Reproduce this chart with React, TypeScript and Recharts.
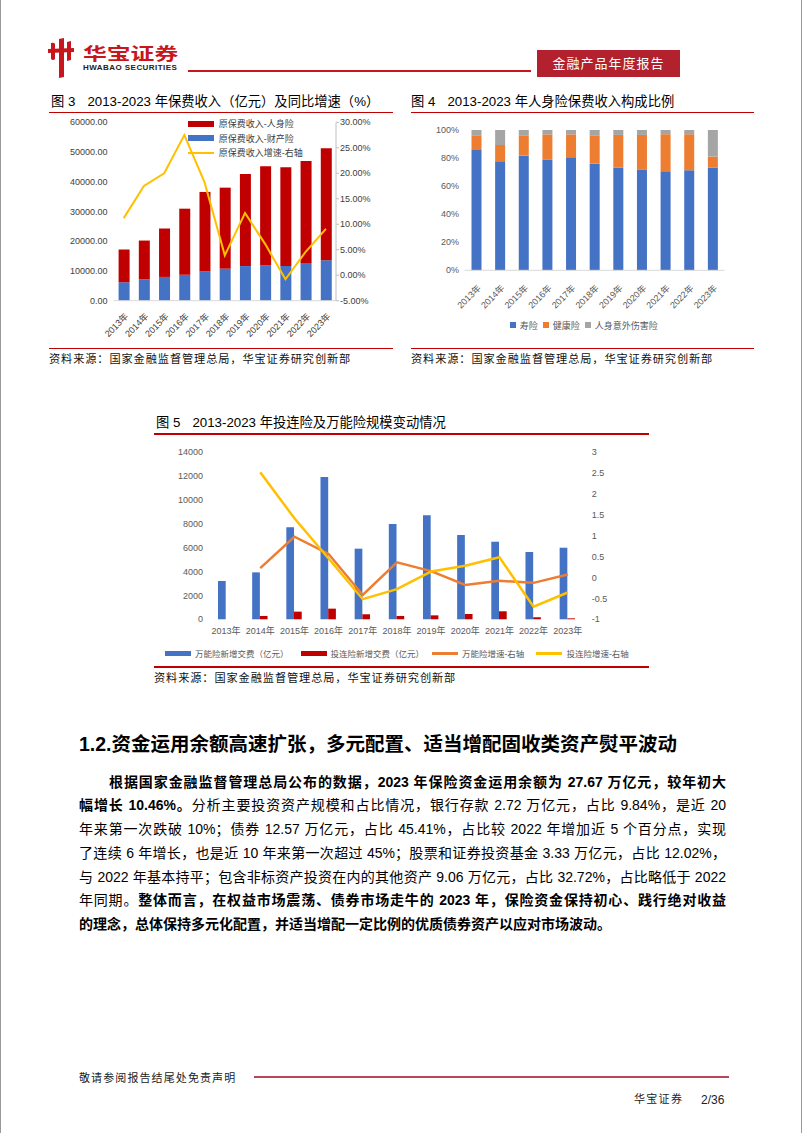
import React from 'react';
import { ComposedChart, BarChart, Bar, Line, XAxis, YAxis, Legend } from 'recharts';

const FONT = '"Liberation Sans", "Noto Sans CJK SC", sans-serif';
const RED = '#C00000';
const BLUE = '#4472C4';
const ORANGE = '#ED7D31';
const GRAY = '#A5A5A5';
const YELLOW = '#FFC000';

// ---------- shared categories ----------
const years = ['2013年', '2014年', '2015年', '2016年', '2017年', '2018年', '2019年', '2020年', '2021年', '2022年', '2023年'];

// ---------- 图3 ----------
const propertyPremium = [6210, 7200, 7990, 8720, 9830, 10770, 11650, 11930, 11670, 12710, 13610];
const lifePremium = [11010, 13030, 16290, 22230, 26750, 27250, 30990, 33330, 33230, 34250, 37640];
const premiumGrowth = [11.2, 17.5, 20.0, 27.5, 18.2, 3.9, 12.2, 6.1, -0.8, 4.6, 9.1];
const fig3LeftTicks = [0, 10000, 20000, 30000, 40000, 50000, 60000];
const fig3RightTicks = [-5, 0, 5, 10, 15, 20, 25, 30];
const fig3Legend = [
  { name: '原保费收入-人身险', color: RED, kind: 'rect' },
  { name: '原保费收入-财产险', color: BLUE, kind: 'rect' },
  { name: '原保费收入增速-右轴', color: YELLOW, kind: 'line' },
];

// ---------- 图4 ----------
const lifeShare = [85.7, 77.7, 81.7, 78.9, 80.5, 76.2, 73.3, 71.6, 70.6, 71.3, 73.3];
const healthShare = [10.5, 11.6, 14.5, 18.0, 16.4, 20.0, 23.2, 24.9, 26.4, 25.7, 7.8];
const accidentShare = [3.8, 10.7, 3.8, 3.1, 3.1, 3.8, 3.5, 3.5, 3.0, 3.0, 18.9];
const fig4Ticks = [0, 10, 20, 30, 40, 50, 60, 70, 80, 90, 100];
const fig4Legend = [
  { name: '寿险', color: BLUE },
  { name: '健康险', color: ORANGE },
  { name: '人身意外伤害险', color: GRAY },
];

// ---------- 图5 ----------
const universalPremium = [3200, 3920, 7680, 11880, 5900, 7960, 8700, 7040, 6480, 5620, 5980];
const unitLinkedPremium = [0, 280, 640, 890, 420, 280, 330, 445, 670, 170, 80];
const universalGrowth = [null, 0.22, 0.97, 0.56, -0.42, 0.36, 0.15, -0.18, -0.08, -0.13, 0.07];
const unitLinkedGrowth = [null, 2.51, 1.41, 0.45, -0.52, -0.28, 0.14, 0.28, 0.48, -0.7, -0.36];
const fig5LeftTicks = [0, 2000, 4000, 6000, 8000, 10000, 12000, 14000];
const fig5RightTicks = [-1, -0.5, 0, 0.5, 1, 1.5, 2, 2.5, 3];
const fig5Legend = [
  { name: '万能险新增交费（亿元）', color: BLUE, kind: 'rect' },
  { name: '投连险新增交费（亿元）', color: RED, kind: 'rect' },
  { name: '万能险增速-右轴', color: ORANGE, kind: 'line' },
  { name: '投连险增速-右轴', color: YELLOW, kind: 'line' },
];

const fig3Data = years.map((y, i) => ({ year: y, property: propertyPremium[i], life: lifePremium[i], growth: premiumGrowth[i] }));
const fig4Data = years.map((y, i) => ({ year: y, life: lifeShare[i], health: healthShare[i], accident: accidentShare[i] }));
const fig5Data = years.map((y, i) => ({
  year: y,
  universal: universalPremium[i],
  unitLinked: unitLinkedPremium[i],
  uGrowth: universalGrowth[i],
  lGrowth: unitLinkedGrowth[i],
}));

// ---------- text ----------
type Seg = { t: string; b?: boolean };
const paraLines: Seg[][] = [
  [{ t: '根据国家金融监督管理总局公布的数据，2023 年保险资金运用余额为 27.67 万亿元，较年初大', b: true }],
  [{ t: '幅增长 10.46%。', b: true }, { t: '分析主要投资资产规模和占比情况，银行存款 2.72 万亿元，占比 9.84%，是近 20' }],
  [{ t: '年来第一次跌破 10%；债券 12.57 万亿元，占比 45.41%，占比较 2022 年增加近 5 个百分点，实现' }],
  [{ t: '了连续 6 年增长，也是近 10 年来第一次超过 45%；股票和证券投资基金 3.33 万亿元，占比 12.02%，' }],
  [{ t: '与 2022 年基本持平；包含非标资产投资在内的其他资产 9.06 万亿元，占比 32.72%，占比略低于 2022' }],
  [{ t: '年同期。' }, { t: '整体而言，在权益市场震荡、债券市场走牛的 2023 年，保险资金保持初心、践行绝对收益', b: true }],
  [{ t: '的理念，总体保持多元化配置，并适当增配一定比例的优质债券资产以应对市场波动。', b: true }],
];

const abs = (left: number, top: number, extra: React.CSSProperties = {}): React.CSSProperties => ({
  position: 'absolute',
  left,
  top,
  ...extra,
});

const Rule = ({ x1, x2, y, color = RED, h = 1.5 }: { x1: number; x2: number; y: number; color?: string; h?: number }) => (
  <div style={abs(x1, y - h / 2, { width: x2 - x1, height: h, background: color })} />
);

const TextAt = ({ x, cy, size, children, style = {} }: any) => (
  <div style={abs(x, cy - size * 0.6, { fontSize: size, lineHeight: `${size * 1.2}px`, whiteSpace: 'nowrap', fontFamily: FONT, ...style })}>
    {children}
  </div>
);

const RotTick3 = (props: any) => {
  const { x, y, payload } = props;
  return (
    <g transform={`translate(${x + 3},${y + 6})`}>
      <text textAnchor="end" transform="rotate(-45)" dy="0.35em" fontSize={9} fill="#404040" fontFamily={FONT}>
        {payload.value}
      </text>
    </g>
  );
};

const RotTick4 = (props: any) => {
  const { x, y, payload } = props;
  return (
    <g transform={`translate(${x + 3},${y + 8})`}>
      <text textAnchor="end" transform="rotate(-45)" dy="0.35em" fontSize={9} fill="#595959" fontFamily={FONT}>
        {payload.value}
      </text>
    </g>
  );
};

const Fig3Legend = () => (
  <div style={{ fontFamily: FONT, fontSize: 9, color: '#404040' }}>
    {fig3Legend.map((it) => (
      <div key={it.name} style={{ display: 'flex', alignItems: 'center', height: 14.5 }}>
        <div
          style={{
            width: 26,
            height: it.kind === 'rect' ? 6 : 2,
            background: it.color,
            marginRight: 5,
          }}
        />
        <span>{it.name}</span>
      </div>
    ))}
  </div>
);

const Fig4Legend = () => (
  <div style={{ fontFamily: FONT, fontSize: 9, color: '#595959', display: 'flex', alignItems: 'center', height: 16 }}>
    {fig4Legend.map((it) => (
      <div key={it.name} style={{ display: 'flex', alignItems: 'center', marginRight: 5 }}>
        <div style={{ width: 6, height: 6, background: it.color, marginRight: 4 }} />
        <span>{it.name}</span>
      </div>
    ))}
  </div>
);

const Fig5Legend = () => (
  <div style={{ fontFamily: FONT, fontSize: 8.5, color: '#595959', display: 'flex', alignItems: 'center', height: 16 }}>
    {fig5Legend.map((it, i) => (
      <div key={it.name} style={{ display: 'flex', alignItems: 'center', marginRight: i === 1 ? 8 : 12 }}>
        <div style={{ width: 26, height: it.kind === 'rect' ? 5 : 3, background: it.color, marginRight: 4 }} />
        <span>{it.name}</span>
      </div>
    ))}
  </div>
);

const Fig3 = () => (
  <div style={abs(40, 115)}>
    <ComposedChart width={350} height={240} data={fig3Data} margin={{ top: 7.3, right: 0, left: 0, bottom: 0 }} barSize={11}>
      <XAxis
        dataKey="year"
        interval={0}
        height={54.3}
        tick={<RotTick3 />}
        tickLine={false}
        axisLine={{ stroke: '#D9D9D9' }}
      />
      <YAxis
        yAxisId="left"
        width={72.6}
        domain={[0, 60000]}
        ticks={fig3LeftTicks}
        tickFormatter={(v: number) => `${v}.00`}
        axisLine={false}
        tickLine={false}
        tickSize={0}
        tickMargin={6}
        tick={{ fontSize: 9, fill: '#404040', fontFamily: FONT }}
      />
      <YAxis
        yAxisId="right"
        orientation="right"
        width={55}
        domain={[-5, 30]}
        ticks={fig3RightTicks}
        tickFormatter={(v: number) => `${v.toFixed(2)}%`}
        axisLine={{ stroke: '#BFBFBF' }}
        tickLine={{ stroke: '#BFBFBF' }}
        tickSize={3}
        tickMargin={1}
        tick={{ fontSize: 9, fill: '#404040', fontFamily: FONT }}
      />
      <Bar yAxisId="left" dataKey="property" stackId="p" fill={BLUE} isAnimationActive={false} />
      <Bar yAxisId="left" dataKey="life" stackId="p" fill={RED} isAnimationActive={false} />
      <Line yAxisId="right" dataKey="growth" stroke={YELLOW} strokeWidth={2} dot={false} type="linear" isAnimationActive={false} />
      <Legend
        layout="horizontal"
        verticalAlign="middle"
        align="center"
        content={<Fig3Legend />}
        wrapperStyle={{ top: 1.5, left: 146.7, width: 150, height: 45 }}
      />
    </ComposedChart>
  </div>
);

const Fig4 = () => (
  <div style={abs(400, 120)}>
    <BarChart width={340} height={225} data={fig4Data} margin={{ top: 10, right: 16.5, left: 0, bottom: 0 }} barSize={10}>
      <XAxis
        dataKey="year"
        interval={0}
        height={74.7}
        tick={<RotTick4 />}
        tickLine={false}
        axisLine={{ stroke: '#D9D9D9' }}
      />
      <YAxis
        width={63.5}
        domain={[0, 100]}
        ticks={fig4Ticks}
        tickFormatter={(v: number) => `${v}%`}
        axisLine={false}
        tickLine={false}
        tickSize={0}
        tickMargin={5.5}
        tick={{ fontSize: 9, fill: '#595959', fontFamily: FONT }}
      />
      <Bar dataKey="life" stackId="s" fill={BLUE} isAnimationActive={false} />
      <Bar dataKey="health" stackId="s" fill={ORANGE} isAnimationActive={false} />
      <Bar dataKey="accident" stackId="s" fill={GRAY} isAnimationActive={false} />
      <Legend
        layout="horizontal"
        verticalAlign="middle"
        align="center"
        content={<Fig4Legend />}
        wrapperStyle={{ top: 197, left: 108.7, width: 200, height: 16 }}
      />
    </BarChart>
  </div>
);

const Fig5 = () => (
  <div style={abs(140, 440)}>
    <ComposedChart width={520} height={225} data={fig5Data} margin={{ top: 11.7, right: 0, left: 0, bottom: 0 }} barSize={7.7} barGap={0}>
      <XAxis
        dataKey="year"
        interval={0}
        height={45.7}
        tickLine={false}
        axisLine={false}
        tickSize={0}
        tickMargin={8.5}
        tick={{ fontSize: 9, fill: '#595959', fontFamily: FONT }}
      />
      <YAxis
        yAxisId="left"
        width={68}
        domain={[0, 14000]}
        ticks={fig5LeftTicks}
        axisLine={false}
        tickLine={false}
        tickSize={0}
        tickMargin={6}
        tick={{ fontSize: 9, fill: '#595959', fontFamily: FONT }}
      />
      <YAxis
        yAxisId="right"
        orientation="right"
        width={76.2}
        domain={[-1, 3]}
        ticks={fig5RightTicks}
        axisLine={false}
        tickLine={false}
        tickSize={0}
        tickMargin={7}
        tick={{ fontSize: 9, fill: '#595959', fontFamily: FONT }}
      />
      <Bar yAxisId="left" dataKey="universal" fill={BLUE} isAnimationActive={false} />
      <Bar yAxisId="left" dataKey="unitLinked" fill={RED} isAnimationActive={false} />
      <Line yAxisId="right" dataKey="uGrowth" stroke={ORANGE} strokeWidth={2.5} dot={false} type="linear" isAnimationActive={false} />
      <Line yAxisId="right" dataKey="lGrowth" stroke={YELLOW} strokeWidth={2.5} dot={false} type="linear" isAnimationActive={false} />
      <Legend
        layout="horizontal"
        verticalAlign="middle"
        align="center"
        content={<Fig5Legend />}
        wrapperStyle={{ top: 205, left: 24, width: 490, height: 16 }}
      />
    </ComposedChart>
  </div>
);

const Logo = () => (
  <svg style={abs(44, 37)} width={34} height={44} viewBox="0 0 34 44">
    <path d="M3 12 L29 11 L29 15 L3 16 Z" fill="#C8161D" />
    <path d="M6 6 Q9 5 10 7 L10 22 Q8 24 6 22 Z" fill="#C8161D" />
    <path d="M14 2 L19 1 L19 40 L14 41 Z" fill="#C8161D" />
    <path d="M22 5 L26 4 L26 23 L22 24 Z" fill="#C8161D" />
  </svg>
);

export default function App() {
  const paraTop0 = 781.5;
  const lineGap = 23.75;
  return (
    <div
      style={{
        position: 'absolute',
        left: 0,
        top: 0,
        width: 802,
        height: 1133,
        background: '#fff',
        fontFamily: FONT,
        color: '#000',
        overflow: 'hidden',
        boxSizing: 'border-box',
        borderLeft: '1px solid #9a9a9a',
        borderRight: '1px solid #9a9a9a',
      }}
    >
      {/* header */}
      <Logo />
      <div style={abs(82, 46, { fontSize: 17, fontWeight: 700, color: '#C8161D', lineHeight: '17px', height: 17, transform: 'scaleX(1.4)', transformOrigin: 'left center', whiteSpace: 'nowrap' })}>
        华宝证券
      </div>
      <div style={abs(82, 63.5, { fontSize: 8, fontWeight: 700, color: '#222', lineHeight: '8px', height: 8, letterSpacing: 0.45, whiteSpace: 'nowrap' })}>
        HWABAO SECURITIES
      </div>
      <Rule x1={187} x2={530} y={70.5} color="#C8161D" h={2} />
      <div
        style={abs(536, 50, {
          width: 143,
          height: 27,
          background: '#B3202E',
          color: '#fff',
          fontSize: 13,
          lineHeight: '27px',
          textAlign: 'center',
          letterSpacing: 1,
        })}
      >
        金融产品年度报告
      </div>

      {/* Fig 3 */}
      <TextAt x={50} cy={101.5} size={13.3}>
        图 3<span style={{ display: 'inline-block', width: 12 }} />2013-2023 年保费收入（亿元）及同比增速（%）
      </TextAt>
      <Rule x1={48} x2={392} y={112.5} />
      <Fig3 />
      <Rule x1={48} x2={392} y={348.5} />
      <TextAt x={48} cy={360} size={11.2} style={{ letterSpacing: 0.9, color: '#111' }}>
        资料来源：国家金融监督管理总局，华宝证券研究创新部
      </TextAt>

      {/* Fig 4 */}
      <TextAt x={410} cy={101.5} size={13.3}>
        图 4<span style={{ display: 'inline-block', width: 12 }} />2013-2023 年人身险保费收入构成比例
      </TextAt>
      <Rule x1={410} x2={753} y={112.7} />
      <Fig4 />
      <Rule x1={410} x2={753} y={348.5} />
      <TextAt x={410} cy={360} size={11.2} style={{ letterSpacing: 0.9, color: '#111' }}>
        资料来源：国家金融监督管理总局，华宝证券研究创新部
      </TextAt>

      {/* Fig 5 */}
      <TextAt x={155} cy={423} size={13.3}>
        图 5<span style={{ display: 'inline-block', width: 12 }} />2013-2023 年投连险及万能险规模变动情况
      </TextAt>
      <Rule x1={153} x2={648} y={434} />
      <Fig5 />
      <Rule x1={153} x2={648} y={667} />
      <TextAt x={153} cy={678.5} size={11.2} style={{ letterSpacing: 0.9, color: '#111' }}>
        资料来源：国家金融监督管理总局，华宝证券研究创新部
      </TextAt>

      {/* heading */}
      <TextAt x={78} cy={745} size={19.5} style={{ fontWeight: 700 }}>
        1.2.资金运用余额高速扩张，多元配置、适当增配固收类资产熨平波动
      </TextAt>

      {/* paragraph */}
      {paraLines.map((segs, i) => {
        const first = i === 0;
        const last = i === paraLines.length - 1;
        const left = first ? 108 : 78;
        return (
          <div
            key={i}
            style={abs(left, paraTop0 + i * lineGap - 9, {
              width: 725 - left,
              fontSize: 14,
              lineHeight: '18px',
              height: 18,
              textAlign: 'justify',
              textAlignLast: last ? 'left' : 'justify',
              fontFamily: FONT,
            } as React.CSSProperties)}
          >
            {segs.map((s, j) => (
              <span key={j} style={{ fontWeight: s.b ? 700 : 400 }}>
                {s.t}
              </span>
            ))}
          </div>
        );
      })}

      {/* footer */}
      <TextAt x={78} cy={1079} size={11} style={{ letterSpacing: 1.1, color: '#222' }}>
        敬请参阅报告结尾处免责声明
      </TextAt>
      <Rule x1={253} x2={728} y={1077} color="#B5485A" h={1.5} />
      <TextAt x={633} cy={1100} size={11} style={{ letterSpacing: 1.3, color: '#222' }}>
        华宝证券
      </TextAt>
      <TextAt x={700} cy={1100} size={12} style={{ color: '#222' }}>
        2/36
      </TextAt>
    </div>
  );
}
